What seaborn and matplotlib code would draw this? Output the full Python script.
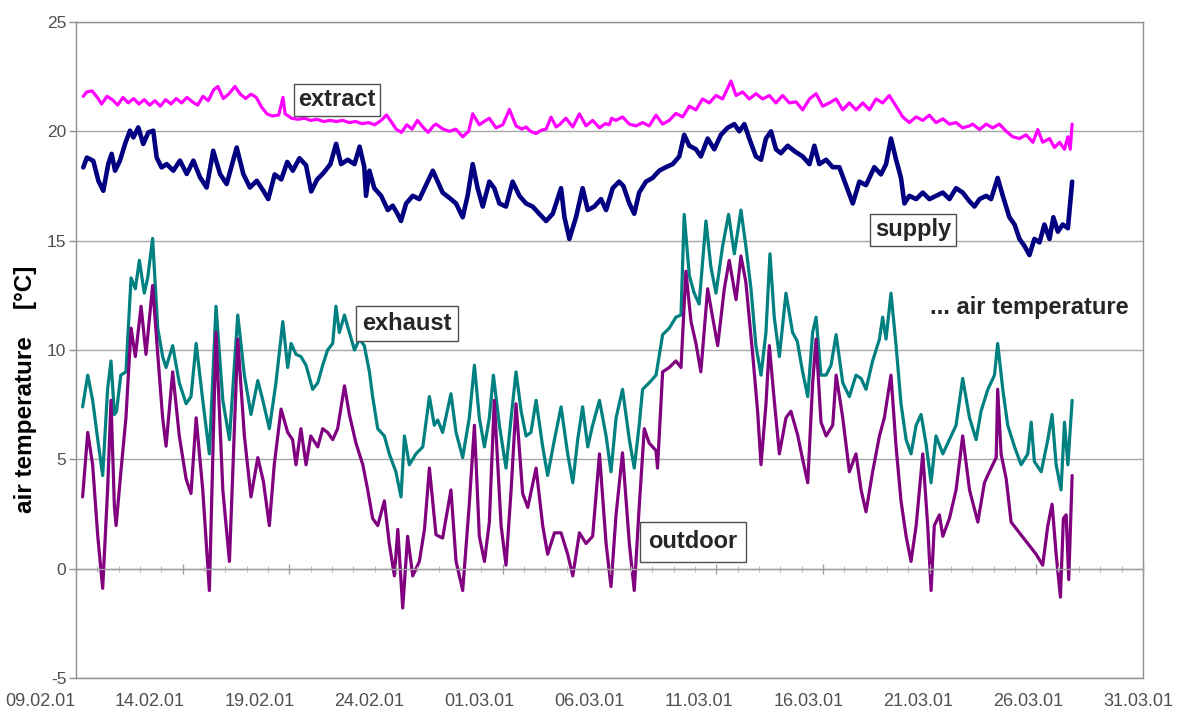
import numpy as np
import pandas as pd
import matplotlib
matplotlib.use("Agg")
import matplotlib.pyplot as plt
import seaborn as sns
from matplotlib.ticker import MultipleLocator

# ---------------- data (days since 09.02.01 00:00, temperature in degC) ----------------
date_labels = ["09.02.01", "14.02.01", "19.02.01", "24.02.01", "01.03.01", "06.03.01",
               "11.03.01", "16.03.01", "21.03.01", "26.03.01", "31.03.01"]
date_ticks = [0, 5, 10, 15, 20, 25, 30, 35, 40, 45, 50]
y_ticks = [-5, 0, 5, 10, 15, 20, 25]

t_outdoor = [0.31, 0.55, 0.78, 1.02, 1.25, 1.48, 1.64, 1.80, 1.88, 2.10, 2.34, 2.58, 2.78, 3.05, 3.28,
             3.59, 3.83, 4.06, 4.22, 4.53, 4.84, 5.16, 5.39, 5.63, 5.94, 6.25, 6.56, 6.88, 7.19, 7.58,
             7.89, 8.20, 8.52, 8.78, 9.06, 9.29, 9.61, 9.92, 10.15, 10.31, 10.54, 10.78, 11.00, 11.33,
             11.56, 11.79, 12.03, 12.26, 12.58, 12.81, 13.12, 13.44, 13.67, 13.90, 14.14, 14.45, 14.68,
             14.92, 15.08, 15.31, 15.54, 15.78, 16.09, 16.33, 16.56, 16.87, 17.18, 17.57, 17.81, 18.12,
             18.43, 18.67, 18.90, 19.14, 19.37, 19.60, 19.92, 20.15, 20.39, 20.62, 20.93, 21.17, 21.56,
             21.87, 22.10, 22.42, 22.73, 23.04, 23.28, 23.59, 23.90, 24.21, 24.53, 24.84, 25.07, 25.31,
             25.61, 25.93, 26.16, 26.39, 26.63, 26.86, 27.18, 27.25, 27.49, 27.80, 28.11, 28.35, 28.58,
             28.82, 29.05, 29.28, 29.60, 29.83, 30.07, 30.38, 30.61, 30.93, 31.16, 31.39, 31.71, 31.94,
             32.10, 32.33, 32.49, 32.72, 32.96, 33.27, 33.50, 33.82, 34.05, 34.29, 34.52, 34.68, 34.91,
             35.15, 35.46, 35.62, 35.93, 36.24, 36.55, 36.79, 37.02, 37.33, 37.65, 37.88, 38.19, 38.43,
             38.66, 38.90, 39.13, 39.37, 39.68, 39.91, 40.07, 40.22, 40.46, 40.62, 40.93, 41.24, 41.55,
             41.87, 42.26, 42.57, 42.80, 43.12, 43.19, 43.35, 43.59, 43.82, 44.21, 44.60, 44.99, 45.30,
             45.54, 45.74, 45.93, 46.13, 46.27, 46.40, 46.52, 46.68]
v_outdoor = [3.28, 6.23, 4.75, 1.48, -0.90, 3.60, 7.70, 2.80, 1.97, 4.40, 6.90, 11.00, 9.70, 12.00, 9.80,
             12.95, 9.80, 6.90, 5.60, 9.00, 6.07, 4.10, 3.44, 6.90, 3.60, -1.00, 10.80, 3.60, 0.33, 10.50,
             6.07, 3.28, 5.08, 4.00, 1.97, 4.75, 7.30, 6.23, 5.90, 4.75, 6.40, 4.75, 6.07, 5.57,
             6.40, 6.23, 5.90, 6.40, 8.36, 7.05, 5.74, 4.75, 3.60, 2.30, 1.97, 3.10, 1.15,
             -0.33, 1.80, -1.80, 1.48, -0.33, 0.33, 1.80, 4.60, 1.55, 1.40, 3.60, 0.33, -1.00,
             2.95, 6.56, 1.48, 0.33, 2.13, 7.70, 1.97, 0.16, 3.60, 7.54, 3.44, 2.80, 4.60,
             1.97, 0.66, 1.64, 1.64, 0.66, -0.33, 1.64, 1.15, 1.48, 5.25, 1.15, -0.82, 2.50,
             5.30, 1.15, -1.00, 2.80, 6.40, 5.74, 5.40, 4.60, 9.00, 9.20, 9.50, 9.20, 13.60,
             11.30, 10.30, 9.00, 12.80, 11.50, 10.20, 12.80, 14.10, 12.30, 14.30, 13.10, 9.80, 7.20,
             4.75, 7.50, 10.20, 7.70, 5.25, 6.90, 7.20, 6.10, 5.00, 3.93, 8.50, 10.50, 6.70,
             6.07, 6.56, 8.85, 6.90, 4.43, 5.25, 3.60, 2.60, 4.43, 6.07, 6.90, 8.85, 5.57,
             3.10, 1.48, 0.33, 1.97, 5.25, 1.97, -1.00, 1.97, 2.46, 1.48, 2.30, 3.60, 6.07,
             3.60, 2.13, 3.93, 4.43, 5.08, 8.20, 5.25, 4.10, 2.13, 1.64, 1.15, 0.66, 0.16,
             1.97, 2.95, 0.66, -1.30, 2.30, 2.46, -0.50, 4.26]

t_exhaust = [0.31, 0.55, 0.78, 1.02, 1.25, 1.48, 1.64, 1.80, 1.90, 2.10, 2.34, 2.58, 2.78, 2.97, 3.20,
             3.36, 3.59, 3.83, 4.06, 4.22, 4.53, 4.84, 5.16, 5.39, 5.63, 5.94, 6.25, 6.56, 6.88, 7.19,
             7.58, 7.89, 8.20, 8.52, 8.78, 9.06, 9.37, 9.69, 9.92, 10.08, 10.31, 10.54, 10.78, 11.09,
             11.33, 11.56, 11.79, 12.03, 12.18, 12.34, 12.58, 12.81, 13.05, 13.28, 13.51, 13.75, 13.90,
             14.14, 14.45, 14.68, 14.99, 15.23, 15.39, 15.62, 15.93, 16.25, 16.56, 16.79, 16.95, 17.18,
             17.57, 17.81, 18.12, 18.43, 18.67, 18.90, 19.14, 19.37, 19.56, 19.84, 20.15, 20.39, 20.62,
             20.86, 21.09, 21.32, 21.56, 21.87, 22.10, 22.42, 22.73, 23.04, 23.28, 23.51, 23.74, 23.98,
             24.21, 24.53, 24.84, 25.07, 25.31, 25.61, 25.93, 26.16, 26.39, 26.55, 26.86, 27.18, 27.49,
             27.80, 28.11, 28.35, 28.50, 28.74, 28.97, 29.20, 29.52, 29.75, 29.99, 30.30, 30.58, 30.85,
             31.16, 31.39, 31.63, 31.86, 32.10, 32.33, 32.52, 32.72, 32.96, 33.27, 33.58, 33.80, 34.05,
             34.29, 34.52, 34.68, 34.91, 35.15, 35.38, 35.62, 35.93, 36.24, 36.55, 36.79, 37.02, 37.33,
             37.65, 37.80, 37.96, 38.19, 38.43, 38.66, 38.90, 39.13, 39.37, 39.60, 39.83, 40.07, 40.30,
             40.62, 40.93, 41.24, 41.55, 41.87, 42.18, 42.41, 42.73, 43.04, 43.19, 43.43, 43.66, 43.98,
             44.29, 44.60, 44.76, 44.91, 45.23, 45.54, 45.74, 45.93, 46.16, 46.32, 46.48, 46.68]
v_exhaust = [7.40, 8.85, 7.70, 5.90, 4.26, 8.20, 9.50, 7.05, 7.20, 8.85, 9.00, 13.30, 12.80, 14.10, 12.60,
             13.30, 15.10, 11.00, 9.70, 9.20, 10.20, 8.50, 7.54, 7.87, 10.30, 7.70, 5.25, 12.00, 7.70, 5.90,
             11.60, 8.85, 7.05, 8.60, 7.60, 6.40, 8.50, 11.30, 9.20, 10.30, 9.80, 9.70, 9.30, 8.20,
             8.50, 9.30, 10.00, 10.30, 12.00, 10.80, 11.60, 10.80, 10.00, 10.50, 10.20, 9.00, 7.87,
             6.40, 6.07, 5.25, 4.43, 3.28, 6.07, 4.75, 5.25, 5.57, 7.87, 6.56, 6.80, 6.23,
             8.00, 6.23, 5.08, 6.90, 9.30, 6.90, 5.57, 6.90, 8.85, 6.56, 4.60, 6.90, 9.00,
             7.20, 6.07, 6.23, 7.70, 5.57, 4.26, 5.90, 7.40, 5.25, 3.93, 5.90, 7.40, 5.57,
             6.56, 7.70, 6.07, 4.43, 6.90, 8.20, 5.90, 4.60, 6.56, 8.20, 8.50, 8.85, 10.70,
             11.00, 11.50, 11.60, 16.20, 13.40, 12.60, 12.10, 15.90, 13.80, 12.60, 14.75, 16.20, 14.40,
             16.40, 14.75, 12.80, 10.20, 8.85, 10.80, 14.40, 11.50, 9.70, 12.60, 10.80, 10.40, 9.00,
             7.87, 10.80, 11.50, 8.85, 8.85, 9.30, 10.70, 8.50, 7.87, 8.85, 8.70, 8.20, 9.50,
             10.50, 11.50, 10.50, 12.60, 10.20, 7.54, 5.90, 5.25, 6.56, 7.05, 5.74, 3.93, 6.07,
             5.25, 5.90, 6.56, 8.70, 6.90, 5.90, 7.20, 8.20, 8.85, 10.30, 8.20, 6.56, 5.57,
             4.75, 5.25, 6.70, 4.90, 4.43, 5.90, 7.05, 4.75, 3.60, 6.70, 4.75, 7.70]

t_supply = [0.34, 0.51, 0.81, 1.05, 1.28, 1.51, 1.67, 1.83, 2.06, 2.30, 2.53, 2.69, 2.92, 3.15, 3.39,
            3.62, 3.78, 4.01, 4.25, 4.56, 4.87, 5.19, 5.50, 5.81, 6.12, 6.43, 6.75, 7.06, 7.53, 7.84,
            8.15, 8.47, 8.78, 9.01, 9.31, 9.62, 9.90, 10.16, 10.47, 10.78, 11.02, 11.30, 11.60, 11.92,
            12.19, 12.42, 12.73, 13.05, 13.29, 13.51, 13.59, 13.75, 13.98, 14.30, 14.61, 14.84, 15.08,
            15.23, 15.47, 15.78, 16.09, 16.40, 16.72, 16.95, 17.18, 17.57, 17.81, 18.12, 18.35, 18.59,
            18.82, 19.06, 19.37, 19.60, 19.84, 20.15, 20.46, 20.78, 21.09, 21.40, 21.71, 22.03, 22.34,
            22.73, 22.89, 23.12, 23.43, 23.74, 23.98, 24.29, 24.60, 24.84, 25.15, 25.45, 25.65, 25.93,
            26.16, 26.39, 26.71, 27.02, 27.33, 27.64, 27.96, 28.27, 28.50, 28.74, 29.05, 29.28, 29.60,
            29.91, 30.22, 30.53, 30.85, 31.08, 31.32, 31.55, 31.86, 32.10, 32.33, 32.57, 32.80, 33.03,
            33.35, 33.66, 34.05, 34.37, 34.60, 34.83, 35.15, 35.46, 35.77, 36.08, 36.40, 36.71, 37.02,
            37.41, 37.72, 37.96, 38.19, 38.43, 38.66, 38.82, 39.05, 39.37, 39.68, 39.99, 40.30, 40.62,
            40.93, 41.24, 41.55, 41.87, 42.10, 42.34, 42.65, 42.88, 43.19, 43.43, 43.74, 43.98, 44.21,
            44.45, 44.68, 44.91, 45.15, 45.38, 45.62, 45.80, 46.01, 46.24, 46.48, 46.68]
v_supply = [18.35, 18.80, 18.65, 17.74, 17.28, 18.50, 18.97, 18.20, 18.66, 19.43, 20.03, 19.72, 20.18, 19.42, 19.95,
            20.03, 18.80, 18.35, 18.50, 18.20, 18.66, 18.05, 18.66, 17.90, 17.43, 19.11, 18.05, 17.59, 19.26, 18.05,
            17.43, 17.74, 17.28, 16.90, 18.03, 17.80, 18.60, 18.20, 18.77, 18.45, 17.25, 17.80, 18.10, 18.50,
            19.43, 18.50, 18.70, 18.50, 19.30, 18.36, 17.05, 18.20, 17.40, 17.05, 16.40, 16.60, 16.20,
            15.90, 16.70, 17.05, 16.90, 17.54, 18.20, 17.70, 17.20, 16.90, 16.70, 16.07, 17.05, 18.50,
            17.40, 16.56, 17.70, 17.40, 16.70, 16.56, 17.70, 17.05, 16.70, 16.56, 16.23, 15.90, 16.23,
            17.40, 16.07, 15.08, 16.07, 17.40, 16.40, 16.56, 16.90, 16.40, 17.40, 17.70, 17.50, 16.70,
            16.23, 17.20, 17.70, 17.87, 18.20, 18.36, 18.50, 18.85, 19.84, 19.34, 19.18, 18.85, 19.67,
            19.18, 19.84, 20.16, 20.33, 20.00, 20.33, 19.67, 18.85, 18.70, 19.67, 20.00, 19.18, 19.00,
            19.34, 19.10, 18.85, 18.50, 19.34, 18.50, 18.70, 18.36, 18.36, 17.54, 16.70, 17.70, 17.54,
            18.36, 18.03, 18.50, 19.67, 18.70, 17.87, 16.70, 17.05, 16.90, 17.20, 16.90, 17.05, 17.20,
            16.90, 17.40, 17.20, 16.80, 16.56, 16.90, 17.05, 16.90, 17.87, 17.05, 16.07, 15.74, 15.08,
            14.75, 14.34, 15.08, 14.92, 15.74, 15.08, 16.07, 15.41, 15.74, 15.57, 17.70]

t_extract = [0.34, 0.50, 0.75, 1.00, 1.20, 1.45, 1.70, 1.95, 2.20, 2.45, 2.70, 2.95, 3.20, 3.45, 3.70,
             3.95, 4.20, 4.45, 4.70, 4.95, 5.20, 5.45, 5.70, 5.95, 6.20, 6.45, 6.65, 6.90, 7.15, 7.45,
             7.70, 7.95, 8.20, 8.45, 8.70, 8.95, 9.20, 9.50, 9.70, 9.80, 10.10, 10.40, 10.70, 11.00,
             11.30, 11.60, 11.90, 12.20, 12.50, 12.80, 13.10, 13.40, 13.70, 14.00, 14.30, 14.55, 14.80,
             15.00, 15.25, 15.50, 15.75, 16.00, 16.25, 16.50, 16.75, 16.87, 17.20, 17.50, 17.80, 18.12,
             18.40, 18.59, 18.90, 19.20, 19.37, 19.68, 20.00, 20.31, 20.62, 20.90, 21.09, 21.30, 21.56,
             21.80, 22.03, 22.26, 22.50, 22.65, 22.96, 23.28, 23.59, 23.90, 24.21, 24.53, 24.80, 24.99,
             25.10, 25.30, 25.61, 25.93, 26.24, 26.55, 26.86, 27.18, 27.49, 27.80, 28.11, 28.43, 28.74,
             29.05, 29.36, 29.68, 29.99, 30.30, 30.69, 30.93, 31.24, 31.55, 31.86, 32.18, 32.49, 32.80,
             33.11, 33.43, 33.74, 34.05, 34.37, 34.68, 34.99, 35.30, 35.62, 35.93, 36.24, 36.55, 36.87,
             37.18, 37.49, 37.80, 38.11, 38.43, 38.74, 39.05, 39.37, 39.68, 39.99, 40.30, 40.62, 40.93,
             41.24, 41.55, 41.87, 42.02, 42.34, 42.65, 42.96, 43.27, 43.59, 43.90, 44.21, 44.52, 44.84,
             45.07, 45.30, 45.62, 45.85, 46.09, 46.32, 46.48, 46.59, 46.68]
v_extract = [21.60, 21.80, 21.85, 21.55, 21.25, 21.60, 21.45, 21.20, 21.55, 21.30, 21.50, 21.25, 21.45, 21.20, 21.40,
             21.15, 21.45, 21.25, 21.50, 21.30, 21.55, 21.35, 21.20, 21.60, 21.40, 21.90, 22.05, 21.50, 21.70, 22.05,
             21.70, 21.50, 21.70, 21.55, 21.10, 20.80, 20.70, 20.75, 21.55, 20.80, 20.60, 20.55, 20.60, 20.50,
             20.55, 20.45, 20.50, 20.45, 20.50, 20.40, 20.45, 20.35, 20.40, 20.30, 20.50, 20.75, 20.40,
             20.10, 19.95, 20.30, 20.10, 20.50, 20.20, 19.95, 20.25, 20.33, 20.10, 20.00, 20.10, 19.75,
             20.00, 20.80, 20.30, 20.50, 20.60, 20.16, 20.30, 21.00, 20.25, 20.10, 20.20, 20.00, 19.90,
             20.05, 20.10, 20.65, 20.20, 20.30, 20.60, 20.20, 20.80, 20.25, 20.50, 20.16, 20.35, 20.30,
             20.60, 20.50, 20.66, 20.33, 20.25, 20.40, 20.25, 20.74, 20.33, 20.50, 20.82, 20.66, 21.15,
             20.98, 21.48, 21.30, 21.64, 21.48, 22.30, 21.64, 21.80, 21.48, 21.72, 21.48, 21.64, 21.30,
             21.64, 21.30, 21.35, 20.98, 21.48, 21.72, 21.15, 21.30, 21.48, 20.98, 21.30, 20.98, 21.30,
             20.98, 21.48, 21.30, 21.64, 21.15, 20.66, 20.40, 20.66, 20.50, 20.74, 20.40, 20.57, 20.33,
             20.40, 20.16, 20.25, 20.33, 20.08, 20.33, 20.16, 20.33, 20.00, 19.75, 19.67, 19.84, 19.50,
             20.08, 19.50, 19.67, 19.26, 19.50, 19.18, 19.75, 19.18, 20.33]

series_names = ["exhaust", "outdoor", "supply", "extract"]
series_colors = {"extract": "#ff00ff", "supply": "#000080", "exhaust": "#008080", "outdoor": "#800080"}
series_data = {"exhaust": (t_exhaust, v_exhaust), "outdoor": (t_outdoor, v_outdoor),
               "supply": (t_supply, v_supply), "extract": (t_extract, v_extract)}
series_lw = {"extract": 2.3, "supply": 3.3, "exhaust": 2.3, "outdoor": 2.3}

# ---------------- figure ----------------
sns.set_theme(style="white")
plt.rcParams['font.family'] = ['Liberation Sans', 'DejaVu Sans']
plt.rcParams['axes.unicode_minus'] = False

W, H = 1181, 713
fig = plt.figure(figsize=(W / 100, H / 100), dpi=100)
fig.patch.set_facecolor("white")
ax = fig.add_axes([76 / W, 1 - 678 / H, (1143 - 76) / W, (678 - 22) / H])

for i, name in enumerate(series_names):
    t, v = series_data[name]
    df = pd.DataFrame({"day": t, "temp": v})
    sns.lineplot(data=df, x="day", y="temp", color=series_colors[name], lw=series_lw[name],
                 ax=ax, estimator=None, sort=False, zorder=3 + i)

ax.set_xlim(0, 50)
ax.set_ylim(-5, 25)
ax.set_yticks(y_ticks)
ax.set_xticks(date_ticks)
ax.set_xticklabels([])
ax.tick_params(axis="x", length=0, bottom=False)
ax.tick_params(axis="y", left=True, length=5, width=1, color="#909090", labelsize=12.5,
               labelcolor="#505050", pad=2)
ax.grid(axis="y", color="#a8a8a8", lw=1)
ax.grid(axis="x", visible=False)
for s in ax.spines.values():
    s.set_color("#909090")
    s.set_linewidth(1)
ax.set_xlabel("")
ax.set_ylabel("air temperature    [°C]", fontsize=17.5, fontweight="bold", color="black")
ax.yaxis.set_label_coords(-0.037, 0.44)

# zero line acting as the date axis crossing (ticks every day, major every 5 days)
ax0 = ax.twiny()
ax0.set_xlim(0, 50)
ax0.xaxis.set_ticks_position("bottom")
ax0.spines["bottom"].set_position(("data", 0))
for k in ["top", "left", "right"]:
    ax0.spines[k].set_visible(False)
ax0.spines["bottom"].set_color("#a0a0a0")
ax0.spines["bottom"].set_linewidth(1)
ax0.set_xticks(date_ticks)
ax0.xaxis.set_minor_locator(MultipleLocator(1))
ax0.tick_params(axis="x", which="major", direction="inout", length=7, width=1, color="#a0a0a0",
                labelbottom=False, labeltop=False, bottom=True)
ax0.tick_params(axis="x", which="minor", direction="inout", length=4, width=0.8, color="#b8b8b8",
                bottom=True)
ax0.grid(False)

# date labels row
lab = fig.add_axes([40 / W, 1 - 678 / H, (1138 - 40) / W, 0.0005])
lab.set_xlim(0, 50)
lab.set_xticks(date_ticks)
lab.set_xticklabels(date_labels)
lab.set_yticks([])
lab.patch.set_visible(False)
for s in lab.spines.values():
    s.set_visible(False)
lab.tick_params(axis="x", length=0, pad=11, labelsize=13, labelcolor="#505050")
lab.grid(False)

fs = 17
box = dict(boxstyle="square,pad=0.2", fc="white", ec="#505050", lw=1)
ax.text(12.23, 21.44, "extract", ha="center", va="center", fontsize=fs, fontweight="bold",
        bbox=box, zorder=10)
ax.text(39.22, 15.5, "supply", ha="center", va="center", fontsize=fs, fontweight="bold",
        bbox=box, zorder=10)
ax.text(15.51, 11.2, "exhaust", ha="center", va="center", fontsize=fs, fontweight="bold",
        bbox=dict(boxstyle="square,pad=0.25", fc="white", ec="#505050", lw=1), zorder=10)
ax.text(28.91, 1.23, "outdoor", ha="center", va="center", fontsize=fs, fontweight="bold",
        bbox=dict(boxstyle="square,pad=0.35", fc="white", ec="#505050", lw=1), zorder=10)
ax.text(44.66, 11.93, "... air temperature", ha="center", va="center", fontsize=fs,
        fontweight="bold", zorder=10)

fig.savefig("out.png", dpi=100, facecolor="white")
